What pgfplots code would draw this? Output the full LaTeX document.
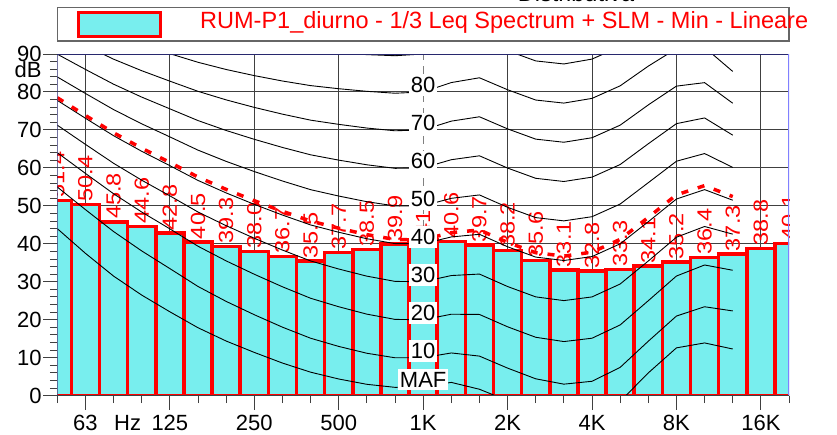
\documentclass[border=0pt]{standalone}
\usepackage{fontspec}
\setmainfont{Liberation Sans}
\usepackage{pgfplots}
\usepackage{pgfplotstable}
\pgfplotsset{compat=1.18}
\definecolor{barfill}{RGB}{120,238,238}
\definecolor{navy}{RGB}{40,40,110}
\definecolor{lblue}{RGB}{128,128,255}
\newcommand\fT{\fontsize{22}{22}\selectfont}
\newcommand\fL{\fontsize{23.5}{24}\selectfont}
\newcommand\fV{\fontsize{20.5}{20.5}\selectfont}

\pgfplotstableread{
i v
0 51.4
1 50.4
2 45.8
3 44.6
4 42.8
5 40.5
6 39.3
7 38.0
8 36.7
9 35.5
10 37.7
11 38.5
12 39.9
13 41.1
14 40.6
15 39.7
16 38.2
17 35.6
18 33.1
19 32.8
20 33.3
21 34.1
22 35.2
23 36.4
24 37.3
25 38.8
26 40.1
}\bars

\pgfplotstableread{
i  maf   p10   p20   p30   p40   red   p50   p60   p70   p80    p90
0  44.0  54.96 64.02 71.26 77.79 78.48 83.96 89.96 95.87 101.72 107.55
1  37.5  49.01 58.55 66.20 73.08 73.81 79.61 85.94 92.18 98.36  104.51
2  31.5  43.24 53.19 61.22 68.48 69.25 75.36 82.05 88.64 95.17  101.67
3  26.5  38.13 48.38 56.76 64.37 65.18 71.61 78.65 85.60 92.48  99.33
4  22.1  33.48 43.94 52.64 60.59 61.43 68.17 75.56 82.85 90.09  97.29
5  17.9  28.77 39.37 48.38 56.70 57.59 64.68 72.47 80.17 87.82  95.43
6  14.4  24.84 35.51 44.78 53.41 54.34 61.72 69.86 77.92 85.92  93.89
7  11.4  21.33 31.99 41.47 50.40 51.36 59.04 67.53 75.94 84.31  92.65
8  8.6   18.05 28.69 38.36 47.58 48.57 56.55 65.39 74.16 82.89  91.60
9  6.2   15.14 25.67 35.50 44.98 46.01 54.27 63.45 72.58 81.68  90.76
10 4.4   12.98 23.43 33.37 43.05 44.11 52.59 62.05 71.47 80.86  90.24
11 3.0   11.18 21.48 31.49 41.34 42.42 51.10 60.82 70.50 80.17  89.84
12 2.2   9.99  20.10 30.11 40.06 41.15 49.98 59.89 69.78 79.67  89.55
13 2.4   10.00 20.00 30.01 40.01 41.11 50.01 60.01 70.01 80.01  90.01
14 3.5   11.26 21.46 31.65 41.82 42.94 51.99 62.16 72.32 82.48  92.65
15 1.7   10.43 21.40 32.04 42.51 43.65 52.88 63.19 73.47 83.74  94.00
16 -1.3  7.27  18.15 28.76 39.23 40.38 49.62 59.96 70.28 80.59  90.88
17 -4.2  4.45  15.39 26.03 36.51 37.66 46.91 57.26 67.58 77.88  88.18
18 -6.0  3.04  14.26 25.05 35.61 36.76 46.05 56.42 66.76 77.07  87.38
19 -5.4  3.80  15.14 26.02 36.65 37.81 47.15 57.57 67.95 78.31  88.66
20 -1.5  7.46  18.64 29.42 40.01 41.17 50.48 60.89 71.26 81.62  91.96
21 6.0   14.35 25.02 35.48 45.83 46.96 56.11 66.36 76.59 86.81  97.02
22 12.6  20.98 31.52 41.74 51.80 52.90 61.76 71.66 81.54 91.41  101.26
23 13.9  23.43 34.43 44.57 54.28 55.34 63.78 73.16 82.46 91.74  100.99
24 12.3  22.33 33.04 42.55 51.49 52.45 60.14 68.63 77.04 85.41  93.75
}\curves

\begin{document}
\begin{tikzpicture}[x=1pt,y=1pt]
\useasboundingbox (0,0) rectangle (837,434);
% title (cut off at the top)
\node[anchor=base, inner sep=0pt, font=\fL] at (576,432) {Distributiva};
% legend
\draw[black!60, line width=1.2pt, fill=white] (57.3,393) rectangle (789,426.7);
\draw[red, line width=3pt, fill=barfill] (78.5,397.8) rectangle (160.5,421.8);
\node[anchor=base west, inner sep=0pt, text=red, font=\fL] at (200,405.7) {RUM-P1\_diurno - 1/3 Leq Spectrum + SLM - Min - Lineare};

\begin{axis}[
  at={(57.3pt,38.3pt)}, anchor=south west,
  scale only axis, width=731.7pt, height=341.7pt,
  xmin=0, xmax=26, ymin=0, ymax=90,
  axis line style={draw=none},
  clip marker paths=true,
  tick pos=left,
  xtick={1,4,7,10,16,19,22,25},
  xticklabels={63,125,250,500,2K,4K,8K,16K},
  extra x ticks={13}, extra x tick labels={1K},
  extra x tick style={major grid style={black!50, line width=1pt, dash pattern=on 8pt off 6pt}},
  minor xtick={0,2,3,5,6,8,9,11,12,14,15,17,18,20,21,23,24,26},
  ytick={0,10,...,90},
  minor ytick={0,2,...,90},
  tick align=outside,
  major tick length=14pt, minor tick length=7.5pt,
  tick style={black!75, line width=1pt},
  grid=major,
  major grid style={black!75, line width=1pt},
  tick label style={font=\fT, inner sep=0pt},
  xticklabel style={yshift=-5pt},
  yticklabel style={xshift=-1.6pt},
  /pgf/number format/assume math mode=true,
]
\addplot[ybar, bar width=1, bar shift=0pt, fill=barfill, draw=red, line width=3.5pt,
  nodes near coords={\pgfmathprintnumber[fixed,fixed zerofill,precision=1]{\pgfplotspointmeta}},
  every node near coord/.append style={rotate=90, anchor=west, xscale=1.15, text=red, font=\fV, inner sep=2.5pt, line width=0pt}]
  table[x=i, y=v] {\bars};
\addplot[black, line width=0.9pt] table[x=i, y=maf] {\curves};
\addplot[black, line width=0.9pt] table[x=i, y=p10] {\curves};
\addplot[black, line width=0.9pt] table[x=i, y=p20] {\curves};
\addplot[black, line width=0.9pt] table[x=i, y=p30] {\curves};
\addplot[black, line width=0.9pt] table[x=i, y=p40] {\curves};
\addplot[black, line width=0.9pt] table[x=i, y=p50] {\curves};
\addplot[black, line width=0.9pt] table[x=i, y=p60] {\curves};
\addplot[black, line width=0.9pt] table[x=i, y=p70] {\curves};
\addplot[black, line width=0.9pt] table[x=i, y=p80] {\curves};
\addplot[black, line width=0.9pt] table[x=i, y=p90] {\curves};
\addplot[red, line width=3.5pt, dash pattern=on 7pt off 10pt] table[x=i, y=red] {\curves};
% phon labels at 1 kHz
\foreach \v/\t in {2.4/MAF,10/10,20/20,30/30,40/40,50/50,60/60,70/70,80/80}{
  \edef\tmp{\noexpand\node[fill=white, inner xsep=2pt, inner ysep=2.8pt, font=\noexpand\fT, yshift=6.8pt] at (axis cs:13,\v) {\t};}
  \tmp
}
% frame
\draw[navy, line width=2pt] (rel axis cs:0,1) -- (rel axis cs:1,1);
\draw[navy, line width=1pt] (rel axis cs:0,0) -- (rel axis cs:0,1);
\draw[lblue, line width=2pt] (rel axis cs:1,0) -- (rel axis cs:1,1);
\draw[black!75, line width=2.2pt] (rel axis cs:0,0) -- (rel axis cs:1,0);
\coordinate (dBpos) at (axis cs:0,85.8);
\coordinate (Hzpos) at (axis cs:2.5,0);
\end{axis}
\node[anchor=east, inner sep=0pt, font=\fT] at ([xshift=-15.6pt]dBpos) {dB};
\node[anchor=north, inner sep=0pt, font=\fT] at ([yshift=-19pt]Hzpos) {Hz};
\end{tikzpicture}
\end{document}
